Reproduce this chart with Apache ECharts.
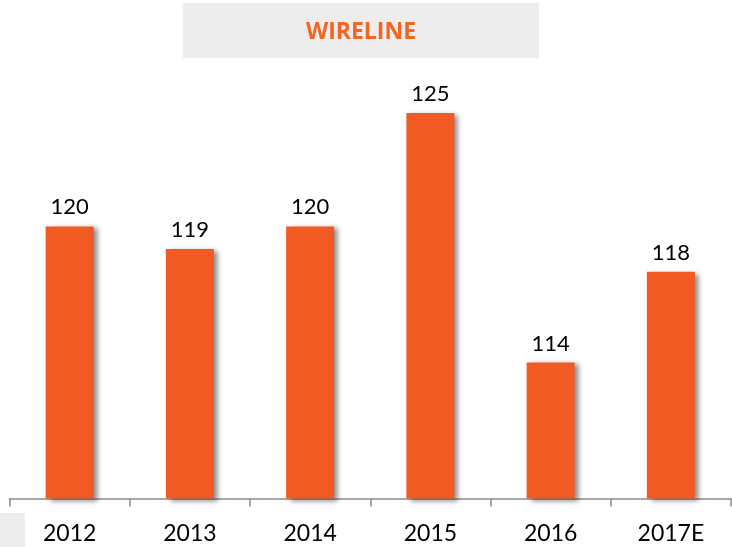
<!DOCTYPE html>
<html>
<head>
<meta charset="utf-8">
<script src="https://cdn.jsdelivr.net/npm/echarts@6/dist/echarts.min.js"></script>
<style>
html,body{margin:0;padding:0;background:#fff;}
#c{width:732px;height:547px;}
</style>
</head>
<body>
<div id="c"></div>
<script>
var title = 'WIRELINE';
var categories = ['2012', '2013', '2014', '2015', '2016', '2017E'];
var values = [120, 119, 120, 125, 114, 118];
var yMin = 108;
var yMax = 125;

var chart = echarts.init(document.getElementById('c'), null, {renderer: 'canvas'});
chart.setOption({
  animation: false,
  backgroundColor: '#ffffff',
  graphic: [
    {type: 'rect', left: 183, top: 3, shape: {width: 356, height: 55}, style: {fill: '#ededed'}, z: 0},
    {type: 'rect', left: 0, top: 513, shape: {width: 25, height: 34}, style: {fill: '#ededed'}, z: 0},
    {type: 'text', x: 361, y: 32, style: {text: title, fill: '#f26522', font: 'bold 23px "Open Sans"', align: 'center', verticalAlign: 'middle'}, z: 1}
  ],
  grid: {left: 9.5, right: 1, top: 113, bottom: 48.5, containLabel: false},
  xAxis: {
    type: 'category',
    data: categories,
    axisLine: {show: true, lineStyle: {color: '#8c8c8c', width: 1.5}},
    axisTick: {show: true, length: 8, alignWithLabel: false, lineStyle: {color: '#8c8c8c', width: 1.5}},
    axisLabel: {color: '#000', fontFamily: 'Lato', fontSize: 23, margin: 24}
  },
  yAxis: {
    type: 'value', min: yMin, max: yMax, show: false,
    splitLine: {show: false}
  },
  series: [{
    type: 'bar',
    data: values,
    barWidth: 48,
    itemStyle: {
      color: '#f15a22',
      shadowColor: 'rgba(0,0,0,0.45)',
      shadowBlur: 5,
      shadowOffsetX: 4,
      shadowOffsetY: 2
    },
    label: {
      show: true, position: 'top', distance: 8,
      color: '#000', fontFamily: 'Lato', fontSize: 22
    }
  }]
});
</script>
</body>
</html>
